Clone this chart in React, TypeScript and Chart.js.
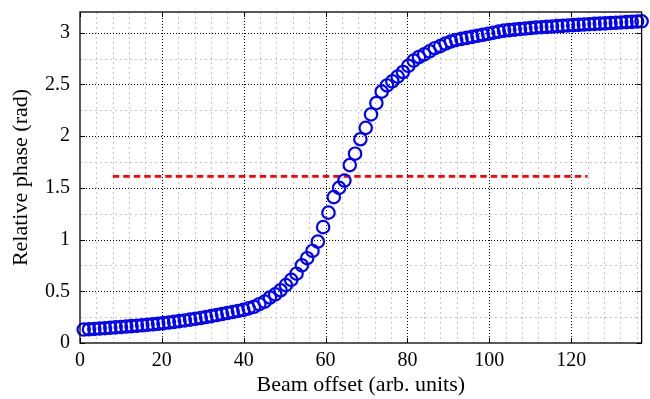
import React, { useEffect, useRef } from "react";
import { Chart, registerables } from "chart.js";

Chart.register(...registerables);

// Beam offset (arb. units) of each measured point
const offsets = [
  0.9, 2.2, 3.5, 4.8, 6.1, 7.4, 8.7, 10.0, 11.3, 12.6,
  13.9, 15.2, 16.5, 17.8, 19.1, 20.4, 21.7, 23.0, 24.3, 25.6,
  26.9, 28.2, 29.5, 30.8, 32.1, 33.4, 34.7, 36.0, 37.3, 38.6,
  39.9, 41.2, 42.5, 43.8, 45.1, 46.4, 47.7, 49.0, 50.3, 51.6,
  52.9, 54.2, 55.5, 56.8, 58.1, 59.4, 60.7, 62.0, 63.3, 64.6,
  65.9, 67.2, 68.5, 69.8, 71.1, 72.4, 73.7, 75.0, 76.3, 77.6,
  78.9, 80.2, 81.5, 82.8, 84.1, 85.4, 86.7, 88.0, 89.3, 90.6,
  91.9, 93.2, 94.5, 95.8, 97.1, 98.4, 99.7, 101.0, 102.3, 103.6,
  104.9, 106.2, 107.5, 108.8, 110.1, 111.4, 112.7, 114.0, 115.3, 116.6,
  117.9, 119.2, 120.5, 121.8, 123.1, 124.4, 125.7, 127.0, 128.3, 129.6,
  130.9, 132.2, 133.5, 134.8, 136.1, 137.2,
];

// Relative phase (rad)
const phase = [
  0.13, 0.133, 0.136, 0.14, 0.143, 0.147, 0.151, 0.155, 0.159, 0.163,
  0.167, 0.171, 0.176, 0.181, 0.186, 0.192, 0.198, 0.204, 0.211, 0.218,
  0.226, 0.234, 0.242, 0.251, 0.26, 0.27, 0.28, 0.29, 0.3, 0.31,
  0.32, 0.335, 0.35, 0.375, 0.4, 0.44, 0.47, 0.51, 0.56, 0.61,
  0.67, 0.75, 0.82, 0.89, 0.98, 1.12, 1.26, 1.41, 1.5, 1.57,
  1.72, 1.83, 1.97, 2.08, 2.21, 2.32, 2.43, 2.49, 2.53, 2.575,
  2.62, 2.68, 2.73, 2.765, 2.79, 2.82, 2.85, 2.87, 2.895, 2.915,
  2.93, 2.94, 2.95, 2.96, 2.97, 2.98, 2.99, 3.0, 3.01, 3.02,
  3.025, 3.03, 3.035, 3.04, 3.045, 3.05, 3.053, 3.056, 3.06, 3.063,
  3.066, 3.07, 3.073, 3.076, 3.079, 3.082, 3.085, 3.088, 3.09, 3.093,
  3.096, 3.099, 3.102, 3.105, 3.108, 3.11,
];

// Horizontal reference (red dashed) line
const refLineX = [8, 124];
const refLineY = [1.61, 1.61];

// Axes
const xMajorTicks = [0, 20, 40, 60, 80, 100, 120];
const yMajorTicks = [0, 0.5, 1, 1.5, 2, 2.5, 3];
const xMinorStep = 4;
const yMinorStep = 0.25;
const xRange = [0, 137.2];
const yRange = [0, 3.2];

const FONT = "'Liberation Serif', 'Times New Roman', serif";

const gridPlugin = {
  id: "matlabGrid",
  beforeDatasetsDraw(chart: any) {
    const { ctx, chartArea: a, scales } = chart;
    const x = scales.x;
    const y = scales.y;
    ctx.save();
    ctx.lineWidth = 1;
    // minor grid
    ctx.strokeStyle = "#c4c4c4";
    ctx.setLineDash([2, 3]);
    ctx.beginPath();
    for (let v = xMinorStep; v < x.max; v += xMinorStep) {
      if (xMajorTicks.includes(v)) continue;
      const px = Math.round(x.getPixelForValue(v)) + 0.5;
      ctx.moveTo(px, a.top);
      ctx.lineTo(px, a.bottom);
    }
    for (let v = yMinorStep; v < y.max; v += yMinorStep) {
      if (yMajorTicks.includes(v)) continue;
      const py = Math.round(y.getPixelForValue(v)) + 0.5;
      ctx.moveTo(a.left, py);
      ctx.lineTo(a.right, py);
    }
    ctx.stroke();
    // major grid
    ctx.strokeStyle = "#000";
    ctx.setLineDash([1, 2]);
    ctx.beginPath();
    for (const v of xMajorTicks) {
      if (v <= x.min) continue;
      const px = Math.round(x.getPixelForValue(v)) + 0.5;
      ctx.moveTo(px, a.top);
      ctx.lineTo(px, a.bottom);
    }
    for (const v of yMajorTicks) {
      if (v <= y.min) continue;
      const py = Math.round(y.getPixelForValue(v)) + 0.5;
      ctx.moveTo(a.left, py);
      ctx.lineTo(a.right, py);
    }
    ctx.stroke();
    ctx.restore();
  },
  afterDatasetsDraw(chart: any) {
    const { ctx, chartArea: a, scales } = chart;
    const x = scales.x;
    const y = scales.y;
    const tl = 5;
    ctx.save();
    ctx.strokeStyle = "#000";
    ctx.lineWidth = 1.3;
    ctx.setLineDash([]);
    ctx.strokeRect(a.left, a.top, a.right - a.left, a.bottom - a.top);
    ctx.lineWidth = 1;
    ctx.beginPath();
    for (const v of xMajorTicks) {
      const px = Math.round(x.getPixelForValue(v)) + 0.5;
      ctx.moveTo(px, a.bottom);
      ctx.lineTo(px, a.bottom - tl);
      ctx.moveTo(px, a.top);
      ctx.lineTo(px, a.top + tl);
    }
    for (const v of yMajorTicks) {
      const py = Math.round(y.getPixelForValue(v)) + 0.5;
      ctx.moveTo(a.left, py);
      ctx.lineTo(a.left + tl, py);
      ctx.moveTo(a.right, py);
      ctx.lineTo(a.right - tl, py);
    }
    ctx.stroke();
    ctx.restore();
  },
};

export default function App() {
  const canvasRef = useRef<HTMLCanvasElement | null>(null);

  useEffect(() => {
    document.body.style.margin = "0";
    const canvas = canvasRef.current;
    if (!canvas) return;
    const chart = new Chart(canvas, {
      type: "scatter",
      data: {
        datasets: [
          {
            label: "phase",
            data: offsets.map((v, i) => ({ x: v, y: phase[i] })),
            showLine: false,
            pointStyle: "circle",
            pointRadius: 6.2,
            pointBorderWidth: 2.2,
            borderColor: "#0000ff",
            backgroundColor: "rgba(0,0,0,0)",
            pointBackgroundColor: "rgba(0,0,0,0)",
            pointBorderColor: "#0000ff",
            clip: false,
          } as any,
          {
            label: "reference",
            data: refLineX.map((v, i) => ({ x: v, y: refLineY[i] })),
            showLine: true,
            pointRadius: 0,
            borderColor: "#ff0000",
            borderWidth: 2.8,
            borderDash: [6.5, 4],
            backgroundColor: "#ff0000",
          } as any,
        ],
      },
      options: {
        animation: false,
        responsive: false,
        maintainAspectRatio: false,
        layout: { padding: { left: 0, right: 7, top: 12, bottom: 0 } },
        plugins: {
          legend: { display: false },
          tooltip: { enabled: false },
        },
        scales: {
          x: {
            type: "linear",
            min: xRange[0],
            max: xRange[1],
            grid: { display: false, drawTicks: false },
            border: { display: false },
            afterBuildTicks: (s: any) => {
              s.ticks = xMajorTicks.map((v) => ({ value: v }));
            },
            afterFit: (s: any) => {
              s.height = 56;
              s.paddingLeft = 0;
              s.paddingRight = 0;
              s.paddingTop = 0;
              s.paddingBottom = 0;
            },
            ticks: {
              padding: 6,
              color: "#000",
              font: { family: FONT, size: 20 },
              callback: (v: any) => String(v),
              maxRotation: 0,
            },
            title: {
              display: true,
              text: "Beam offset (arb. units)",
              color: "#000",
              font: { family: FONT, size: 22 },
              padding: { top: 0, bottom: 1 },
            },
          },
          y: {
            type: "linear",
            min: yRange[0],
            max: yRange[1],
            grid: { display: false, drawTicks: false },
            border: { display: false },
            afterBuildTicks: (s: any) => {
              s.ticks = yMajorTicks.map((v) => ({ value: v }));
            },
            afterFit: (s: any) => {
              s.width = 80;
              s.paddingLeft = 0;
              s.paddingRight = 0;
              s.paddingTop = 0;
              s.paddingBottom = 0;
            },
            ticks: {
              padding: 10,
              color: "#000",
              font: { family: FONT, size: 20 },
              callback: (v: any) => String(v),
            },
            title: {
              display: true,
              text: "Relative phase (rad)",
              color: "#000",
              font: { family: FONT, size: 22 },
              padding: { top: 8, bottom: 0 },
            },
          },
        },
      },
      plugins: [gridPlugin],
    });
    return () => chart.destroy();
  }, []);

  return (
    <div style={{ width: 650, height: 399, position: "relative", background: "#fff" }}>
      <canvas ref={canvasRef} width={650} height={399} style={{ display: "block" }} />
    </div>
  );
}
